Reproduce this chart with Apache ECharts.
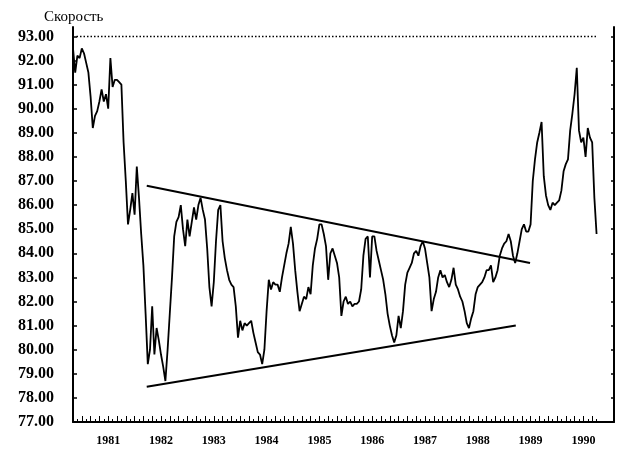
<!DOCTYPE html>
<html><head><meta charset="utf-8">
<script src="https://cdn.jsdelivr.net/npm/echarts@6/dist/echarts.min.js"></script>
<style>html,body{margin:0;padding:0;background:#fff}#c{width:627px;height:455px}</style>
</head><body><div id="c"></div>
<script>
// Semi-monthly readings, starting Nov 1980
const startYear = 1980 + 20/24;
const step = 1/24;
const v1980 = [92.5, 91.5, 92.2, 92.1];
const v1981 = [92.5, 92.3, 91.9, 91.5, 90.5, 89.2, 89.7, 89.9, 90.3, 90.8, 90.3, 90.6, 90.0, 92.1, 90.9, 91.2, 91.2, 91.1, 91.0, 88.6, 87.0, 85.2, 85.8, 86.5];
const v1982 = [85.6, 87.6, 86.3, 84.8, 83.5, 81.5, 79.4, 80.0, 81.8, 79.8, 80.9, 80.4, 79.8, 79.3, 78.7, 80.0, 81.5, 83.0, 84.7, 85.3, 85.5, 86.0, 85.0, 84.3];
const v1983 = [85.4, 84.7, 85.3, 85.9, 85.4, 86.0, 86.3, 85.8, 85.4, 84.2, 82.6, 81.8, 82.8, 84.5, 85.8, 86.0, 84.5, 83.8, 83.3, 82.9, 82.7, 82.6, 81.8, 80.5];
const v1984 = [81.2, 80.8, 81.1, 81.0, 81.1, 81.2, 80.7, 80.3, 79.9, 79.8, 79.4, 80.0, 81.6, 82.9, 82.5, 82.8, 82.7, 82.7, 82.4, 83.0, 83.5, 84.0, 84.4, 85.1];
const v1985 = [84.4, 83.3, 82.4, 81.6, 81.9, 82.2, 82.1, 82.6, 82.3, 83.5, 84.2, 84.6, 85.2, 85.2, 84.8, 84.3, 82.9, 84.0, 84.2, 83.9, 83.6, 83.0, 81.4, 82.0];
const v1986 = [82.2, 81.9, 82.0, 81.8, 81.9, 81.9, 82.0, 82.5, 83.9, 84.6, 84.7, 83.0, 84.7, 84.7, 84.1, 83.7, 83.3, 82.9, 82.3, 81.5, 81.0, 80.6, 80.3, 80.6];
const v1987 = [81.4, 80.9, 81.6, 82.7, 83.2, 83.4, 83.6, 84.0, 84.1, 83.9, 84.3, 84.5, 84.2, 83.6, 83.0, 81.6, 82.1, 82.4, 83.0, 83.3, 83.0, 83.1, 82.8, 82.6];
const v1988 = [82.9, 83.4, 82.7, 82.5, 82.2, 82.0, 81.6, 81.1, 80.9, 81.3, 81.6, 82.3, 82.6, 82.7, 82.8, 83.0, 83.3, 83.3, 83.5, 82.8, 83.0, 83.3, 83.9, 84.2];
const v1989 = [84.4, 84.5, 84.8, 84.5, 83.9, 83.6, 84.0, 84.5, 85.0, 85.2, 84.9, 84.9, 85.2, 87.0, 87.9, 88.6, 89.0, 89.45, 87.2, 86.4, 86.0, 85.8, 86.1, 86.0];
const v1990 = [86.1, 86.2, 86.6, 87.4, 87.7, 87.9, 89.1, 89.8, 90.6, 91.7, 89.1, 88.6, 88.8, 88.0, 89.2, 88.8, 88.6, 86.3, 84.8];

const yearLabels = [1981, 1982, 1983, 1984, 1985, 1986, 1987, 1988, 1989, 1990];
const yTickValues = [77, 78, 79, 80, 81, 82, 83, 84, 85, 86, 87, 88, 89, 90, 91, 92, 93];
const upperTrend = [[1982.23, 86.8], [1989.49, 83.6]];
const lowerTrend = [[1982.23, 78.46], [1989.22, 81.0]];
const refLine = [[1980.9, 93.0], [1990.75, 93.0]];
const yTitle = 'Скорость';

const values = [].concat(v1980, v1981, v1982, v1983, v1984, v1985, v1986, v1987, v1988, v1989, v1990);
const seriesData = values.map((v, i) => [startYear + i * step, v]);

const xMin = startYear, xMax = 1991.08;
const monthTicks = [], biMonthTicks = [];
for (let m = 11; m <= 129; m++) {
  monthTicks.push(1980 + m / 12);
  if (m % 2 === 0) biMonthTicks.push(1980 + m / 12);
}

const font = "'Liberation Serif', 'Times New Roman', serif";
const black = '#000';

const chart = echarts.init(document.getElementById('c'), null, {renderer: 'canvas'});
chart.setOption({
  animation: false,
  backgroundColor: '#fff',
  title: {
    text: yTitle, left: 39, top: 5,
    textStyle: {fontFamily: font, fontSize: 15, fontWeight: 'normal', color: black}
  },
  grid: {left: 73, right: 13, top: 27, bottom: 33, containLabel: false},
  xAxis: [
    {
      type: 'value', min: xMin, max: xMax, position: 'bottom',
      axisLine: {show: true, lineStyle: {color: black, width: 2}},
      axisTick: {show: true, inside: true, length: 3, customValues: monthTicks, lineStyle: {color: black, width: 1}},
      axisLabel: {
        show: true, customValues: yearLabels.map(y => y + 0.5),
        formatter: v => String(Math.floor(v)),
        fontFamily: font, fontWeight: 'bold', fontSize: 12, color: black, margin: 13
      },
      splitLine: {show: false}
    },
    {
      type: 'value', min: xMin, max: xMax, position: 'bottom',
      axisLine: {show: false},
      axisTick: {show: true, inside: true, length: 6, customValues: biMonthTicks, lineStyle: {color: black, width: 1}},
      axisLabel: {show: false},
      splitLine: {show: false}
    }
  ],
  yAxis: [
    {
      type: 'value', min: 77, max: 93.39, position: 'left',
      axisLine: {show: true, lineStyle: {color: black, width: 2}},
      axisTick: {show: true, inside: true, length: 4, customValues: yTickValues, lineStyle: {color: black, width: 1.5}},
      axisLabel: {
        show: true, customValues: yTickValues, formatter: v => Number(v).toFixed(2),
        fontFamily: font, fontWeight: 'bold', fontSize: 16, color: black, margin: 19
      },
      splitLine: {show: false}
    },
    {
      type: 'value', min: 77, max: 93.39, position: 'right',
      axisLine: {show: true, lineStyle: {color: black, width: 2}},
      axisTick: {show: true, inside: true, length: 3, customValues: yTickValues, lineStyle: {color: black, width: 1.5}},
      axisLabel: {show: false},
      splitLine: {show: false}
    }
  ],
  series: [
    {
      type: 'line', data: seriesData, showSymbol: false, symbol: 'none',
      lineStyle: {color: black, width: 1.8}, z: 3
    },
    {
      type: 'line', data: upperTrend, showSymbol: false, symbol: 'none',
      lineStyle: {color: black, width: 2}, z: 2
    },
    {
      type: 'line', data: lowerTrend, showSymbol: false, symbol: 'none',
      lineStyle: {color: black, width: 2}, z: 2
    },
    {
      type: 'line', data: refLine, showSymbol: false, symbol: 'none',
      lineStyle: {color: black, width: 1.5, type: [1.5, 2]}, z: 2
    }
  ]
});
</script>
</body></html>
